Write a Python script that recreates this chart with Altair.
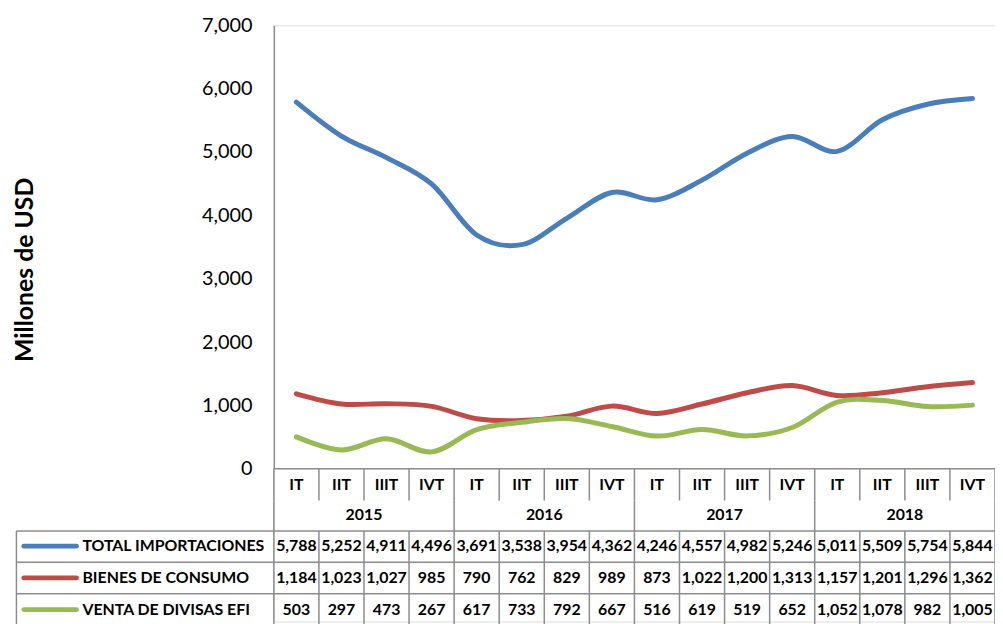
import altair as alt
import pandas as pd

years = ["2015", "2016", "2017", "2018"]
quarters = ["IT", "IIT", "IIIT", "IVT"]
series = ["TOTAL IMPORTACIONES", "BIENES DE CONSUMO", "VENTA DE DIVISAS EFI"]
total = [5788, 5252, 4911, 4496, 3691, 3538, 3954, 4362, 4246, 4557, 4982, 5246, 5011, 5509, 5754, 5844]
bienes = [1184, 1023, 1027, 985, 790, 762, 829, 989, 873, 1022, 1200, 1313, 1157, 1201, 1296, 1362]
venta = [503, 297, 473, 267, 617, 733, 792, 667, 516, 619, 519, 652, 1052, 1078, 982, 1005]
colors = ["#4A7EBB", "#BE4B48", "#98B954"]

FONT = "Lato"
W, H = 727, 601
Y0 = 447            # pixel of value 0
GRID = "#8C8C8C"
TS = 16

values = [total, bienes, venta]
n = len(years) * len(quarters)
idx = list(range(n))

xs = alt.Scale(domain=[-0.5, n - 0.5], nice=False, zero=False)
ys = alt.Scale(domain=[0, 7000], range=[Y0, 0], nice=False, zero=False)

layers = []

# lines
for k, s in enumerate(series):
    df = pd.DataFrame({"i": idx, "v": values[k], "s": s})
    ln = alt.Chart(df).mark_line(
        interpolate="cardinal", strokeWidth=5, strokeCap="round", strokeJoin="round", color=colors[k]
    ).encode(
        x=alt.X("i:Q", scale=xs, axis=None),
        y=alt.Y("v:Q", scale=ys, axis=alt.Axis(
            title="Millones de USD", values=list(range(0, 7001, 1000)), format=",.0f",
            grid=False, ticks=False, domain=True, domainColor=GRID, domainWidth=1.5,
            labelFont=FONT, labelFontSize=20, labelColor="#000", labelPadding=22,
            titleFont=FONT, titleFontSize=25, titleFontWeight="bold", titleColor="#000",
            titleX=-238, titleY=246,
        )),
    )
    layers.append(ln)

# table grid lines
bounds = pd.DataFrame({"b": [i - 0.5 for i in range(n + 1)]})
year_bounds = pd.DataFrame({"b": [i * 4 - 0.5 for i in range(len(years) + 1)]})
row_tops = [509.7, 541.3, 573.0, 604.7]
row_centers = [525, 557, 589]

def vrule(df, y1, y2):
    return alt.Chart(df).mark_rule(color=GRID, strokeWidth=1.5).encode(
        x=alt.X("b:Q", scale=xs), y=alt.value(y1), y2=alt.value(y2))

layers.append(vrule(bounds, Y0, 479))
layers.append(vrule(bounds, row_tops[0], 640))
layers.append(vrule(year_bounds, 479, row_tops[0]))

legend_left = -259.5
layers.append(alt.Chart(pd.DataFrame({"a": [0]})).mark_rule(color=GRID, strokeWidth=1.5).encode(
    x=alt.value(legend_left), y=alt.value(row_tops[0]), y2=alt.value(640)))
layers.append(alt.Chart(pd.DataFrame({"a": [0]})).mark_rule(color=GRID, strokeWidth=1.5).encode(
    x=alt.value(0), x2=alt.value(W), y=alt.value(Y0)))
for yt in row_tops:
    layers.append(alt.Chart(pd.DataFrame({"a": [0]})).mark_rule(color=GRID, strokeWidth=1.5).encode(
        x=alt.value(legend_left), x2=alt.value(W), y=alt.value(yt)))

# quarter labels
qdf = pd.DataFrame({"i": idx, "q": [quarters[i % 4] for i in idx]})
layers.append(alt.Chart(qdf).mark_text(font=FONT, fontSize=TS, fontWeight="bold", color="#000").encode(
    x=alt.X("i:Q", scale=xs), y=alt.value(463), text="q:N"))

# year labels
ydf = pd.DataFrame({"y": years, "c": [4 * k + 1.5 for k in range(len(years))]})
layers.append(alt.Chart(ydf).mark_text(font=FONT, fontSize=TS, fontWeight="bold", color="#000").encode(
    x=alt.X("c:Q", scale=xs), y=alt.value(494), text="y:N"))

# data rows and legend keys
for k, s in enumerate(series):
    df = pd.DataFrame({"i": idx, "v": values[k]})
    layers.append(alt.Chart(df).mark_text(font=FONT, fontSize=TS, fontWeight="bold", color="#000").encode(
        x=alt.X("i:Q", scale=xs), y=alt.value(row_centers[k]), text=alt.Text("v:Q", format=",")))
    sdf = pd.DataFrame({"s": [s]})
    layers.append(alt.Chart(sdf).mark_rule(color=colors[k], strokeWidth=5, strokeCap="round").encode(
        x=alt.value(-252), x2=alt.value(-199), y=alt.value(row_centers[k])))
    layers.append(alt.Chart(sdf).mark_text(font=FONT, fontSize=TS, fontWeight="bold", color="#000",
                                           align="left").encode(
        x=alt.value(-193), y=alt.value(row_centers[k]), text="s:N"))

chart = alt.layer(*layers).properties(
    width=W, height=H,
    autosize=alt.AutoSizeParams(type="none"),
    padding={"left": 268, "top": 15, "right": 0, "bottom": 0},
).configure_view(stroke=None).configure(background="white")

chart.save("out.html", embed_options={"renderer": "svg", "actions": False})
